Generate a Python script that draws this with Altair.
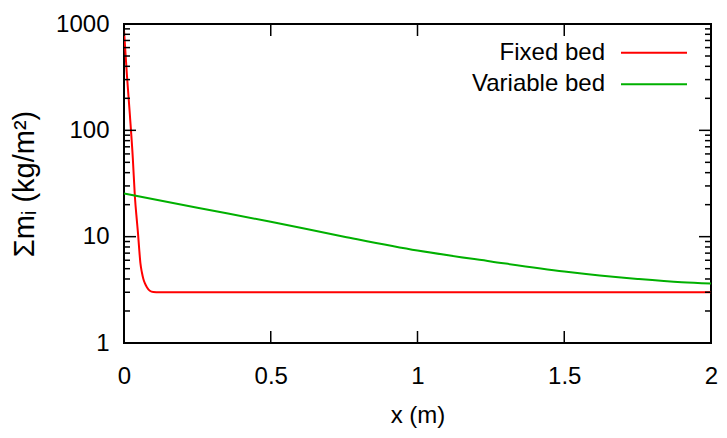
import altair as alt
import pandas as pd

# ---- data ----
fixed_x = [0.0, 0.01, 0.02, 0.03, 0.037, 0.044, 0.048, 0.052, 0.056, 0.061, 0.066,
           0.071, 0.078, 0.088, 0.1, 0.12, 0.5, 1.0, 1.5, 2.0]
fixed_y = [870, 330, 140, 55, 24, 14, 10.5, 7.5, 5.6, 4.6, 4.0,
           3.65, 3.35, 3.1, 3.02, 3.0, 3.0, 3.0, 3.0, 3.0]

var_x = [0.0, 0.25, 0.5, 0.75, 1.0, 1.25, 1.5, 1.75, 1.9, 2.0]
var_y = [25.5, 18.7, 13.8, 10.0, 7.4, 5.85, 4.7, 4.0, 3.72, 3.62]

series_names = ["Fixed bed", "Variable bed"]
series_colors = ["#ff0000", "#00b000"]

x_ticks = [0, 0.5, 1, 1.5, 2]
y_ticks = [1, 10, 100, 1000]
y_minor = [2, 3, 4, 5, 6, 7, 8, 9,
           20, 30, 40, 50, 60, 70, 80, 90,
           200, 300, 400, 500, 600, 700, 800, 900]

FONT = "Liberation Sans, Arial, Helvetica, sans-serif"
TITLE_FONT = "Liberation Sans, Arial, DejaVu Sans, sans-serif"
FS = 24
W, H = 587, 319

lines = pd.concat([
    pd.DataFrame({"x": fixed_x, "y": fixed_y, "series": series_names[0]}),
    pd.DataFrame({"x": var_x, "y": var_y, "series": series_names[1]}),
])

xscale = alt.Scale(domain=[0, 2], nice=False, zero=False)
yscale = alt.Scale(type="log", domain=[1, 1000], nice=False)

line_layer = alt.Chart(lines).mark_line(strokeWidth=2, interpolate="monotone", clip=True).encode(
    x=alt.X("x:Q", scale=xscale,
            axis=alt.Axis(values=x_ticks, format="~g", title="x (m)", grid=False, ticks=False,
                          tickSize=0, domain=False, labelFlush=False, labelPadding=21,
                          labelFont=FONT, labelFontSize=FS, labelColor="black",
                          titleFont=FONT, titleFontSize=FS, titleFontWeight="normal",
                          titleColor="black", titleY=79, titleBaseline="alphabetic")),
    y=alt.Y("y:Q", scale=yscale,
            axis=alt.Axis(values=y_ticks, format="d", title="Σmᵢ  (kg/m²)", grid=False,
                          ticks=False, tickSize=0, domain=False, labelPadding=15,
                          labelFont=FONT, labelFontSize=FS, labelColor="black",
                          titleFont=TITLE_FONT, titleFontSize=29, titleFontWeight="normal",
                          titleColor="black", titleX=-91, titleBaseline="alphabetic")),
    color=alt.Color("series:N", scale=alt.Scale(domain=series_names, range=series_colors),
                    legend=None),
    detail="series:N",
)

xt = pd.DataFrame({"x": x_ticks})
ymaj = pd.DataFrame({"y": y_ticks})
ymin = pd.DataFrame({"y": y_minor})

tick_style = dict(color="black", strokeWidth=1.5)

x_bottom = alt.Chart(xt).mark_rule(**tick_style).encode(
    x=alt.X("x:Q", scale=xscale), y=alt.value(H), y2=alt.value(H - 12))
x_top = alt.Chart(xt).mark_rule(**tick_style).encode(
    x=alt.X("x:Q", scale=xscale), y=alt.value(0), y2=alt.value(12))
y_left = alt.Chart(ymaj).mark_rule(**tick_style).encode(
    y=alt.Y("y:Q", scale=yscale), x=alt.value(0), x2=alt.value(12))
y_right = alt.Chart(ymaj).mark_rule(**tick_style).encode(
    y=alt.Y("y:Q", scale=yscale), x=alt.value(W), x2=alt.value(W - 12))
ym_left = alt.Chart(ymin).mark_rule(**tick_style).encode(
    y=alt.Y("y:Q", scale=yscale), x=alt.value(0), x2=alt.value(6))
ym_right = alt.Chart(ymin).mark_rule(**tick_style).encode(
    y=alt.Y("y:Q", scale=yscale), x=alt.value(W), x2=alt.value(W - 6))

legend_layers = []
for i, (name, col) in enumerate(zip(series_names, series_colors)):
    ly = 28.7 + i * 31.6
    d = alt.Data(values=[{"name": name}])
    legend_layers.append(
        alt.Chart(d).mark_text(align="right", baseline="middle", font=FONT, fontSize=FS,
                               color="black").encode(
            text="name:N", x=alt.value(481), y=alt.value(ly)))
    legend_layers.append(
        alt.Chart(d).mark_rule(color=col, strokeWidth=2).encode(
            x=alt.value(497), x2=alt.value(563), y=alt.value(ly)))

chart = alt.layer(
    line_layer, x_bottom, x_top, y_left, y_right, ym_left, ym_right, *legend_layers
).properties(
    width=W, height=H,
    autosize=alt.AutoSizeParams(type="none"),
    padding={"left": 116, "top": 16, "right": 8, "bottom": 87},
    background="white",
).configure_view(stroke="black", strokeWidth=2)

chart.save("out.html", embed_options={"renderer": "svg", "actions": False})
